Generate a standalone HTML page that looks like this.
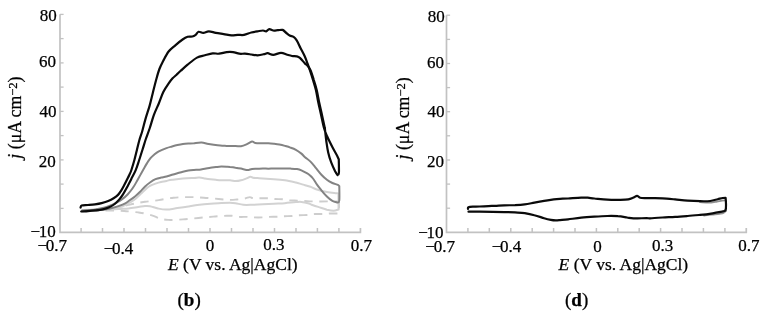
<!DOCTYPE html>
<html><head><meta charset="utf-8"><style>
html,body{margin:0;padding:0;background:#fff;}
svg{display:block;will-change:transform;}
text{stroke:#000;stroke-width:0.25px;}
.tl{font-family:"Liberation Serif",serif;font-size:17px;fill:#000;}
.at{font-family:"Liberation Serif",serif;font-size:17.5px;fill:#000;}
.pl{font-family:"Liberation Serif",serif;font-size:19px;fill:#000;}
</style></head><body>
<svg width="764" height="319" viewBox="0 0 764 319">
<rect width="764" height="319" fill="#fff"/>
<path d="M60.0,14.352000000000004 L60.0,232.3 L360.43,232.3 L360.43,228.0" fill="none" stroke="#c2c2c2" stroke-width="1.7"/>
<line x1="60.0" y1="14.4" x2="63.6" y2="14.4" stroke="#c2c2c2" stroke-width="1.3"/>
<line x1="60.0" y1="38.6" x2="63.6" y2="38.6" stroke="#c2c2c2" stroke-width="1.3"/>
<line x1="60.0" y1="62.9" x2="63.6" y2="62.9" stroke="#c2c2c2" stroke-width="1.3"/>
<line x1="60.0" y1="87.1" x2="63.6" y2="87.1" stroke="#c2c2c2" stroke-width="1.3"/>
<line x1="60.0" y1="111.4" x2="63.6" y2="111.4" stroke="#c2c2c2" stroke-width="1.3"/>
<line x1="60.0" y1="135.6" x2="63.6" y2="135.6" stroke="#c2c2c2" stroke-width="1.3"/>
<line x1="60.0" y1="159.9" x2="63.6" y2="159.9" stroke="#c2c2c2" stroke-width="1.3"/>
<line x1="60.0" y1="184.1" x2="63.6" y2="184.1" stroke="#c2c2c2" stroke-width="1.3"/>
<line x1="60.0" y1="208.4" x2="63.6" y2="208.4" stroke="#c2c2c2" stroke-width="1.3"/>
<line x1="81.1" y1="232.3" x2="81.1" y2="228.0" stroke="#c2c2c2" stroke-width="1.5"/>
<line x1="102.5" y1="232.3" x2="102.5" y2="228.0" stroke="#c2c2c2" stroke-width="1.5"/>
<line x1="124.0" y1="232.3" x2="124.0" y2="228.0" stroke="#c2c2c2" stroke-width="1.5"/>
<line x1="145.5" y1="232.3" x2="145.5" y2="228.0" stroke="#c2c2c2" stroke-width="1.5"/>
<line x1="167.0" y1="232.3" x2="167.0" y2="228.0" stroke="#c2c2c2" stroke-width="1.5"/>
<line x1="188.5" y1="232.3" x2="188.5" y2="228.0" stroke="#c2c2c2" stroke-width="1.5"/>
<line x1="210.0" y1="232.3" x2="210.0" y2="228.0" stroke="#c2c2c2" stroke-width="1.5"/>
<line x1="231.5" y1="232.3" x2="231.5" y2="228.0" stroke="#c2c2c2" stroke-width="1.5"/>
<line x1="253.0" y1="232.3" x2="253.0" y2="228.0" stroke="#c2c2c2" stroke-width="1.5"/>
<line x1="274.5" y1="232.3" x2="274.5" y2="228.0" stroke="#c2c2c2" stroke-width="1.5"/>
<line x1="296.0" y1="232.3" x2="296.0" y2="228.0" stroke="#c2c2c2" stroke-width="1.5"/>
<line x1="317.4" y1="232.3" x2="317.4" y2="228.0" stroke="#c2c2c2" stroke-width="1.5"/>
<line x1="338.9" y1="232.3" x2="338.9" y2="228.0" stroke="#c2c2c2" stroke-width="1.5"/>
<path d="M446.5,15.240000000000009 L446.5,232.3 L746.27,232.3 L746.27,228.0" fill="none" stroke="#c2c2c2" stroke-width="1.7"/>
<line x1="446.5" y1="15.2" x2="450.1" y2="15.2" stroke="#c2c2c2" stroke-width="1.3"/>
<line x1="446.5" y1="39.4" x2="450.1" y2="39.4" stroke="#c2c2c2" stroke-width="1.3"/>
<line x1="446.5" y1="63.5" x2="450.1" y2="63.5" stroke="#c2c2c2" stroke-width="1.3"/>
<line x1="446.5" y1="87.6" x2="450.1" y2="87.6" stroke="#c2c2c2" stroke-width="1.3"/>
<line x1="446.5" y1="111.7" x2="450.1" y2="111.7" stroke="#c2c2c2" stroke-width="1.3"/>
<line x1="446.5" y1="135.8" x2="450.1" y2="135.8" stroke="#c2c2c2" stroke-width="1.3"/>
<line x1="446.5" y1="160.0" x2="450.1" y2="160.0" stroke="#c2c2c2" stroke-width="1.3"/>
<line x1="446.5" y1="184.1" x2="450.1" y2="184.1" stroke="#c2c2c2" stroke-width="1.3"/>
<line x1="446.5" y1="208.2" x2="450.1" y2="208.2" stroke="#c2c2c2" stroke-width="1.3"/>
<line x1="467.9" y1="232.3" x2="467.9" y2="228.0" stroke="#c2c2c2" stroke-width="1.5"/>
<line x1="489.3" y1="232.3" x2="489.3" y2="228.0" stroke="#c2c2c2" stroke-width="1.5"/>
<line x1="510.8" y1="232.3" x2="510.8" y2="228.0" stroke="#c2c2c2" stroke-width="1.5"/>
<line x1="532.2" y1="232.3" x2="532.2" y2="228.0" stroke="#c2c2c2" stroke-width="1.5"/>
<line x1="553.6" y1="232.3" x2="553.6" y2="228.0" stroke="#c2c2c2" stroke-width="1.5"/>
<line x1="575.0" y1="232.3" x2="575.0" y2="228.0" stroke="#c2c2c2" stroke-width="1.5"/>
<line x1="596.4" y1="232.3" x2="596.4" y2="228.0" stroke="#c2c2c2" stroke-width="1.5"/>
<line x1="617.8" y1="232.3" x2="617.8" y2="228.0" stroke="#c2c2c2" stroke-width="1.5"/>
<line x1="639.2" y1="232.3" x2="639.2" y2="228.0" stroke="#c2c2c2" stroke-width="1.5"/>
<line x1="660.6" y1="232.3" x2="660.6" y2="228.0" stroke="#c2c2c2" stroke-width="1.5"/>
<line x1="682.0" y1="232.3" x2="682.0" y2="228.0" stroke="#c2c2c2" stroke-width="1.5"/>
<line x1="703.4" y1="232.3" x2="703.4" y2="228.0" stroke="#c2c2c2" stroke-width="1.5"/>
<line x1="724.9" y1="232.3" x2="724.9" y2="228.0" stroke="#c2c2c2" stroke-width="1.5"/>
<text x="39.70" y="20.85" class="tl">80</text>
<text x="39.00" y="67.25" class="tl">60</text>
<text x="39.60" y="116.90" class="tl">40</text>
<text x="38.70" y="166.70" class="tl">20</text>
<text x="30.40" y="237.00" class="tl">−<tspan dx="-1.3">10</tspan></text>
<text x="427.70" y="21.80" class="tl">80</text>
<text x="426.90" y="68.25" class="tl">60</text>
<text x="427.45" y="117.20" class="tl">40</text>
<text x="426.90" y="167.25" class="tl">20</text>
<text x="418.15" y="238.05" class="tl">−<tspan dx="-1.3">10</tspan></text>
<text x="37.55" y="250.95" class="tl">−<tspan dx="-1.3">0.7</tspan></text>
<text x="103.70" y="253.50" class="tl">−<tspan dx="-1.3">0.4</tspan></text>
<text x="205.75" y="250.80" class="tl">0</text>
<text x="263.25" y="250.35" class="tl">0.3</text>
<text x="350.65" y="250.80" class="tl">0.7</text>
<text x="425.35" y="252.00" class="tl">−<tspan dx="-1.3">0.7</tspan></text>
<text x="491.70" y="252.00" class="tl">−<tspan dx="-1.3">0.4</tspan></text>
<text x="593.35" y="251.85" class="tl">0</text>
<text x="651.95" y="251.15" class="tl">0.3</text>
<text x="738.30" y="251.15" class="tl">0.7</text>
<path d="M82.0,210.0 C85.0,209.8 94.5,209.4 100.0,209.0 C105.5,208.6 110.8,208.0 115.0,207.5 C119.2,207.0 121.7,206.5 125.0,205.8 C128.3,205.1 131.7,204.2 135.0,203.5 C138.3,202.8 141.0,202.4 145.0,201.8 C149.0,201.2 154.0,200.8 158.8,200.1 C163.6,199.4 168.6,198.2 173.6,197.7 C178.6,197.2 184.0,197.1 189.0,197.1 C194.0,197.1 198.9,197.4 203.8,197.7 C208.7,198.0 214.2,198.6 218.6,199.0 C223.0,199.4 226.9,199.8 230.0,199.9 C233.1,200.0 234.5,199.7 237.0,199.5 C239.5,199.3 242.7,198.9 244.8,198.5 C246.9,198.1 248.4,197.2 249.8,197.1 C251.2,197.0 251.4,198.0 253.0,198.2 C254.6,198.4 257.1,198.2 259.6,198.2 C262.1,198.2 265.4,198.2 267.9,198.3 C270.4,198.4 272.0,198.8 274.5,199.0 C277.0,199.2 280.1,199.1 282.7,199.3 C285.2,199.5 287.3,200.2 289.8,200.4 C292.3,200.6 295.0,200.5 297.5,200.6 C300.0,200.7 302.2,200.9 304.6,201.0 C307.0,201.1 308.1,201.3 312.0,201.4 C315.9,201.5 323.5,201.4 328.0,201.4 C332.5,201.4 337.2,201.4 339.0,201.4" fill="none" stroke="#cdcdcd" stroke-width="1.9" stroke-linejoin="round" stroke-linecap="butt" stroke-dasharray="8.4 6.6" stroke-dashoffset="1"/>
<path d="M339.0,201.4 L339.0,212.5 L339.0,212.5 C338.8,212.7 339.4,213.3 337.9,213.5 C336.4,213.7 332.8,213.4 330.2,213.5 C327.6,213.6 325.1,213.9 322.5,214.0 C319.9,214.1 317.3,213.8 314.9,214.0 C312.5,214.2 310.5,214.8 307.9,215.0 C305.3,215.2 301.8,215.1 299.2,215.3 C296.6,215.5 295.1,215.8 292.6,216.0 C290.1,216.2 286.8,216.1 284.3,216.2 C281.8,216.3 280.2,216.6 277.7,216.7 C275.1,216.8 271.6,216.8 269.0,216.9 C266.4,217.0 264.9,217.3 262.4,217.4 C259.9,217.5 256.6,217.5 254.1,217.4 C251.6,217.3 250.1,217.0 247.6,216.9 C245.1,216.8 241.4,217.1 238.8,216.9 C236.2,216.7 234.0,216.0 232.0,215.8 C230.0,215.6 230.0,215.7 226.8,215.8 C223.7,215.9 217.8,216.2 213.1,216.6 C208.3,217.0 203.3,217.5 198.3,218.0 C193.3,218.5 187.9,219.1 182.9,219.4 C177.9,219.7 171.9,220.1 168.1,219.9 C164.3,219.8 162.5,219.2 160.0,218.5 C157.5,217.8 155.8,216.6 153.3,215.8 C150.8,215.0 147.5,214.1 145.0,213.5 C142.5,212.9 140.7,212.7 138.2,212.4 C135.7,212.1 132.3,211.7 130.0,211.5 C127.7,211.3 127.4,211.2 124.1,211.0 C120.8,210.8 115.7,210.5 110.0,210.5 C104.3,210.5 93.3,210.9 90.0,211.0" fill="none" stroke="#cdcdcd" stroke-width="1.9" stroke-linejoin="round" stroke-linecap="butt" stroke-dasharray="8.4 6.6" stroke-dashoffset="1.6"/>
<path d="M100.0,210.0 C102.5,209.8 111.3,209.1 115.0,208.5 C118.7,207.9 119.8,207.3 122.0,206.5 C124.2,205.7 126.2,204.7 128.4,203.4 C130.6,202.2 133.3,200.6 135.4,199.0 C137.5,197.4 139.3,195.3 141.1,193.6 C142.9,191.9 144.5,190.3 146.0,189.0 C147.5,187.7 148.4,186.7 150.0,185.8 C151.6,184.9 153.7,184.2 155.5,183.6 C157.3,183.0 159.2,182.4 161.0,182.0 C162.8,181.6 164.7,181.3 166.5,180.9 C168.3,180.5 169.3,180.2 172.0,179.8 C174.7,179.4 179.2,178.7 182.9,178.4 C186.6,178.1 191.2,178.0 193.9,177.9 C196.7,177.8 197.6,177.5 199.4,177.6 C201.2,177.7 203.1,178.1 204.9,178.4 C206.7,178.7 208.6,179.0 210.4,179.2 C212.2,179.4 214.1,179.6 215.9,179.8 C217.7,180.0 219.1,180.2 221.4,180.3 C223.8,180.4 227.7,180.2 230.0,180.3 C232.3,180.4 233.7,181.1 235.5,181.1 C237.3,181.1 239.2,180.8 241.0,180.3 C242.8,179.9 244.9,179.0 246.5,178.4 C248.1,177.8 249.2,176.8 250.3,176.7 C251.4,176.6 251.8,177.6 253.0,177.8 C254.2,178.0 255.7,178.0 257.4,178.1 C259.0,178.2 260.1,178.2 262.9,178.4 C265.6,178.6 270.2,178.9 273.9,179.2 C277.6,179.5 281.2,179.8 284.9,180.3 C288.6,180.9 293.1,181.9 295.9,182.5 C298.6,183.1 299.9,183.7 301.4,184.1 C302.9,184.5 303.5,184.8 305.0,185.2 C306.5,185.6 308.7,186.1 310.5,186.8 C312.3,187.5 313.3,188.3 316.0,189.2 C318.7,190.1 323.6,191.4 326.9,192.1 C330.2,192.8 333.8,193.0 335.7,193.2 C337.6,193.4 337.9,193.4 338.4,193.5 L338.4,193.5 L338.6,209.5 L338.6,209.5 C337.8,209.7 335.4,210.8 333.5,210.8 C331.6,210.8 329.4,210.3 326.9,209.7 C324.3,209.0 320.8,207.7 318.2,206.9 C315.6,206.1 313.3,205.3 311.6,204.7 C309.9,204.1 309.7,203.7 308.0,203.2 C306.3,202.7 303.4,202.1 301.4,201.9 C299.4,201.7 298.6,201.9 295.9,202.1 C293.1,202.3 288.6,202.9 284.9,203.2 C281.2,203.5 277.6,203.5 273.9,203.7 C270.2,203.9 266.5,204.1 262.9,204.3 C259.2,204.5 255.3,204.7 252.0,204.8 C248.7,204.9 245.9,205.1 243.2,204.8 C240.4,204.5 237.7,203.5 235.5,203.2 C233.3,202.9 232.3,202.8 230.0,202.8 C227.7,202.8 224.7,202.8 221.4,203.0 C218.1,203.2 214.1,203.4 210.4,203.7 C206.7,204.0 203.1,204.3 199.4,204.8 C195.7,205.3 192.1,205.9 188.4,206.5 C184.7,207.1 181.1,207.6 177.4,208.1 C173.8,208.6 169.7,209.5 166.5,209.6 C163.3,209.7 160.8,209.1 158.0,208.5 C155.2,207.9 152.2,206.6 150.0,206.2 C147.8,205.8 147.0,205.9 145.0,206.0 C143.0,206.1 141.0,206.6 138.2,207.0 C135.4,207.4 131.7,208.1 128.4,208.4 C125.1,208.7 123.2,208.7 118.5,209.0 C113.8,209.3 103.1,209.8 100.0,210.0" fill="none" stroke="#d2d2d2" stroke-width="2.0" stroke-linejoin="round" stroke-linecap="round"/>
<path d="M82.0,210.5 C84.2,210.3 91.2,210.0 95.0,209.5 C98.8,209.0 102.2,208.3 105.0,207.5 C107.8,206.7 110.0,205.7 112.0,204.8 C114.0,203.9 115.2,203.3 117.0,202.3 C118.8,201.3 120.7,200.2 122.5,198.9 C124.3,197.6 125.9,196.3 127.6,194.5 C129.3,192.7 131.0,190.6 132.6,188.3 C134.2,186.1 135.6,183.5 137.0,181.0 C138.4,178.5 140.0,175.5 141.3,173.2 C142.6,170.8 143.7,168.8 144.8,166.9 C145.9,165.0 146.9,163.4 147.8,161.9 C148.8,160.4 149.6,159.3 150.5,158.2 C151.4,157.1 152.1,156.3 153.5,155.2 C154.9,154.1 156.6,152.6 158.8,151.4 C161.0,150.2 164.3,148.9 166.5,148.1 C168.7,147.3 170.2,147.0 172.0,146.5 C173.8,146.0 175.6,145.5 177.4,145.1 C179.2,144.7 181.1,144.3 182.9,144.0 C184.7,143.7 186.6,143.6 188.4,143.5 C190.2,143.4 191.7,143.3 193.9,143.2 C196.1,143.0 199.4,142.5 201.6,142.6 C203.8,142.7 205.1,143.3 207.1,143.7 C209.1,144.1 211.5,144.5 213.7,144.8 C215.9,145.1 218.1,145.4 220.3,145.6 C222.5,145.8 224.3,145.8 226.8,145.9 C229.3,146.0 233.1,146.1 235.5,146.1 C237.9,146.1 239.2,146.5 241.0,146.2 C242.8,145.9 244.7,145.1 246.5,144.3 C248.3,143.5 250.6,141.7 252.0,141.5 C253.4,141.3 253.4,142.7 255.2,143.0 C257.0,143.3 260.7,143.2 262.9,143.2 C265.1,143.2 266.6,143.1 268.4,143.2 C270.2,143.3 272.1,143.5 273.9,143.7 C275.7,143.9 277.6,144.1 279.4,144.5 C281.2,144.9 283.1,145.4 284.9,145.9 C286.7,146.4 288.6,146.9 290.4,147.6 C292.2,148.2 294.1,148.8 295.9,149.8 C297.7,150.8 299.9,152.4 301.4,153.6 C302.9,154.8 303.5,155.9 305.0,157.2 C306.5,158.5 308.7,159.8 310.5,161.6 C312.3,163.4 314.2,166.0 316.0,168.2 C317.8,170.4 319.6,172.8 321.4,174.7 C323.2,176.6 325.1,178.3 326.9,179.7 C328.7,181.1 330.6,182.1 332.4,183.0 C334.2,183.9 336.8,184.3 337.9,184.9 C339.0,185.5 339.1,186.1 339.3,186.3 L339.3,186.3 C339.3,188.7 339.6,197.8 339.3,200.5 C339.0,203.2 337.8,202.2 337.5,202.5 L337.5,202.5 C336.6,202.2 334.2,201.9 332.4,200.9 C330.6,199.9 328.7,198.3 326.9,196.5 C325.1,194.7 323.0,192.3 321.4,190.3 C319.8,188.3 318.4,186.6 317.0,184.6 C315.6,182.6 314.2,180.0 313.0,178.5 C311.8,177.0 311.0,176.3 310.0,175.4 C309.0,174.5 308.2,174.0 306.8,173.2 C305.4,172.4 303.0,171.1 301.4,170.4 C299.8,169.7 298.8,169.4 297.0,169.1 C295.2,168.8 292.4,168.7 290.4,168.6 C288.4,168.5 286.7,168.4 284.9,168.4 C283.1,168.4 281.2,168.5 279.4,168.5 C277.6,168.5 275.7,168.5 273.9,168.5 C272.1,168.5 270.2,168.7 268.4,168.7 C266.6,168.7 264.7,168.5 262.9,168.5 C261.1,168.5 259.2,168.7 257.4,168.8 C255.6,168.9 253.4,168.8 252.0,169.0 C250.6,169.2 249.6,169.8 248.7,169.9 C247.8,170.1 247.8,170.1 246.5,169.9 C245.2,169.7 242.8,169.0 241.0,168.6 C239.2,168.2 237.3,167.9 235.5,167.7 C233.7,167.4 231.4,167.2 230.0,167.1 C228.6,166.9 228.2,166.9 226.8,166.8 C225.4,166.7 223.2,166.6 221.4,166.6 C219.6,166.6 217.7,166.9 215.9,167.1 C214.1,167.3 212.2,167.4 210.4,167.7 C208.6,168.0 206.7,168.5 204.9,168.8 C203.1,169.1 201.2,169.5 199.4,169.7 C197.6,169.9 195.7,169.8 193.9,169.9 C192.1,170.1 190.2,170.3 188.4,170.6 C186.6,170.9 184.7,171.3 182.9,171.7 C181.1,172.1 179.2,172.7 177.4,173.2 C175.6,173.7 173.8,174.2 172.0,174.8 C170.2,175.4 168.3,176.0 166.5,176.5 C164.7,177.0 162.8,177.2 161.0,177.6 C159.2,178.0 157.3,178.4 155.5,179.2 C153.7,180.0 151.7,181.3 150.0,182.5 C148.3,183.7 146.8,184.9 145.1,186.5 C143.4,188.1 141.8,190.1 140.1,191.8 C138.4,193.5 136.7,195.1 135.0,196.5 C133.3,197.9 131.6,198.9 130.0,200.0 C128.4,201.1 127.2,202.3 125.3,203.3 C123.4,204.3 121.0,205.2 118.5,206.1 C116.0,207.0 113.1,207.8 110.0,208.5 C106.9,209.2 103.3,209.6 100.0,210.0 C96.7,210.4 93.0,210.6 90.0,210.8 C87.0,211.0 83.3,211.1 82.0,211.2" fill="none" stroke="#838383" stroke-width="2.0" stroke-linejoin="round" stroke-linecap="round"/>
<path d="M80.6,207.6 C80.8,207.2 80.4,205.9 81.6,205.5 C82.8,205.1 85.8,205.2 88.0,205.0 C90.2,204.8 92.7,204.6 95.0,204.3 C97.3,204.0 99.4,203.7 101.6,203.1 C103.8,202.5 106.2,201.8 108.2,201.0 C110.2,200.2 112.0,199.3 113.6,198.3 C115.2,197.3 116.7,196.2 118.0,194.9 C119.3,193.6 120.3,192.0 121.3,190.4 C122.3,188.8 123.1,187.2 124.0,185.5 C124.9,183.8 125.9,181.8 126.8,180.0 C127.7,178.2 128.5,176.7 129.3,175.0 C130.1,173.3 130.6,172.5 131.4,170.0 C132.2,167.5 133.5,163.3 134.4,160.0 C135.3,156.7 136.1,153.3 136.9,150.0 C137.7,146.7 138.5,143.2 139.4,140.0 C140.3,136.8 141.3,134.4 142.3,131.0 C143.3,127.6 144.1,123.8 145.3,119.6 C146.5,115.4 148.2,110.5 149.5,106.1 C150.8,101.6 151.7,97.2 152.8,92.9 C153.9,88.6 155.0,84.0 156.1,80.0 C157.2,76.0 158.2,72.2 159.4,69.0 C160.6,65.8 161.8,63.7 163.3,60.8 C164.8,57.9 166.6,54.1 168.6,51.5 C170.6,48.9 173.0,47.3 175.3,45.3 C177.6,43.3 180.6,40.9 182.6,39.5 C184.6,38.1 186.0,37.3 187.6,36.8 C189.2,36.3 191.0,36.8 192.3,36.5 C193.7,36.2 194.6,35.6 195.7,34.8 C196.8,34.0 197.3,32.1 198.6,31.8 C199.9,31.5 201.6,33.0 203.3,32.9 C205.0,32.8 206.7,31.3 208.8,31.3 C210.9,31.3 213.3,32.4 215.8,32.9 C218.3,33.4 221.1,33.7 223.7,34.1 C226.3,34.5 229.2,35.3 231.5,35.4 C233.8,35.5 235.7,35.0 237.8,34.9 C239.9,34.8 241.8,35.3 244.0,34.9 C246.2,34.5 249.1,33.1 251.3,32.5 C253.6,31.9 255.6,31.6 257.5,31.3 C259.4,31.0 261.6,30.5 263.0,30.5 C264.4,30.5 265.1,31.5 266.2,31.3 C267.2,31.1 268.1,29.2 269.3,29.1 C270.5,29.0 271.8,30.3 273.2,30.5 C274.6,30.7 276.3,30.3 277.9,30.2 C279.5,30.1 281.3,29.5 282.6,29.9 C283.9,30.3 284.6,31.6 285.8,32.5 C287.0,33.4 288.4,34.8 289.7,35.5 C291.0,36.2 292.4,36.1 293.6,36.9 C294.8,37.7 295.5,38.5 296.7,40.4 C297.9,42.3 299.3,45.6 300.6,48.2 C301.9,50.8 303.4,53.4 304.6,56.0 C305.8,58.6 306.8,61.6 307.7,63.9 C308.6,66.2 308.9,67.3 309.8,70.0 C310.7,72.7 312.0,76.7 313.0,80.0 C314.0,83.3 315.0,86.2 315.9,90.0 C316.8,93.8 317.4,98.3 318.3,102.6 C319.2,106.9 320.4,111.8 321.3,116.0 C322.2,120.2 323.1,124.7 324.0,128.0 C324.9,131.3 325.6,132.8 327.0,136.0 C328.4,139.2 330.9,144.2 332.6,147.5 C334.3,150.8 336.0,153.5 337.0,155.5 C338.0,157.5 338.5,158.8 338.8,159.5 L338.8,159.5 C338.8,161.8 339.1,170.4 338.9,173.0 C338.7,175.6 337.8,174.8 337.6,175.1 L337.6,175.1 C337.2,174.5 336.2,173.4 335.1,171.3 C334.1,169.2 332.5,165.7 331.3,162.6 C330.1,159.5 329.0,156.1 328.2,152.5 C327.4,148.9 326.9,145.1 326.3,141.0 C325.7,136.9 325.1,130.2 324.8,128.0" fill="none" stroke="#0a0a0a" stroke-width="2.2" stroke-linejoin="round" stroke-linecap="round"/>
<path d="M324.8,128.0 C324.4,126.0 323.1,120.2 322.2,116.0 C321.3,111.8 320.1,106.9 319.2,102.6 C318.3,98.3 317.6,93.8 316.7,90.0 C315.8,86.2 314.9,83.3 313.8,80.0 C312.8,76.7 311.5,72.4 310.4,70.0 C309.3,67.6 308.4,66.7 307.4,65.5 C306.4,64.3 305.9,64.4 304.6,63.1 C303.4,61.8 301.2,59.0 299.9,57.9 C298.6,56.8 298.0,56.7 296.7,56.4 C295.4,56.1 293.6,56.3 292.0,56.0 C290.4,55.7 289.1,55.3 287.3,54.8 C285.5,54.3 283.4,52.9 281.0,52.9 C278.6,52.9 275.4,54.8 273.2,54.8 C271.0,54.8 269.3,53.3 267.7,53.2 C266.1,53.1 265.5,53.9 263.8,54.2 C262.1,54.6 259.6,55.2 257.5,55.3 C255.4,55.3 253.4,54.8 251.3,54.5 C249.2,54.2 247.0,53.8 245.0,53.7 C243.0,53.6 241.3,54.0 239.3,53.7 C237.3,53.4 235.1,52.4 233.0,52.1 C230.9,51.8 229.1,51.8 226.8,52.1 C224.5,52.4 221.3,53.5 219.0,53.7 C216.7,53.9 215.0,53.1 212.7,53.4 C210.3,53.7 207.5,54.6 204.9,55.3 C202.3,56.0 199.9,56.0 197.0,57.6 C194.1,59.2 190.3,62.5 187.6,64.7 C184.9,66.9 182.6,69.1 180.7,70.8 C178.8,72.5 177.7,73.8 176.3,75.0 C175.0,76.2 173.9,76.9 172.6,78.3 C171.3,79.7 170.1,81.3 168.5,83.6 C166.9,85.9 164.9,88.7 163.3,92.0 C161.7,95.3 160.4,99.7 158.8,103.5 C157.2,107.3 155.4,110.8 153.9,114.9 C152.4,119.0 151.2,123.8 149.8,128.0 C148.4,132.2 146.7,136.3 145.5,140.0 C144.3,143.7 143.5,146.7 142.4,150.0 C141.3,153.3 140.3,156.7 139.2,160.0 C138.1,163.3 137.0,166.9 135.7,170.1 C134.4,173.2 132.9,175.8 131.3,178.9 C129.7,182.0 127.6,186.2 126.2,188.8 C124.8,191.4 124.2,192.5 123.0,194.3 C121.8,196.1 120.5,198.0 119.1,199.6 C117.7,201.2 116.3,202.7 114.7,204.0 C113.1,205.3 111.2,206.4 109.2,207.3 C107.2,208.2 105.1,208.8 102.7,209.3 C100.3,209.8 97.5,210.1 95.0,210.4 C92.5,210.7 90.3,210.9 88.0,211.1 C85.7,211.3 82.3,211.4 81.2,211.5" fill="none" stroke="#0a0a0a" stroke-width="2.2" stroke-linejoin="round" stroke-linecap="round"/>
<path d="M700.0,202.2 C701.0,202.3 704.2,202.5 706.0,202.6 C707.8,202.7 709.2,202.8 711.0,202.6 C712.8,202.4 715.2,201.9 717.0,201.6 C718.8,201.3 720.5,200.8 722.0,200.6 C723.5,200.4 725.2,200.4 725.8,200.4" fill="none" stroke="#8f8f8f" stroke-width="1.8" stroke-linejoin="round" stroke-linecap="round"/>
<path d="M704.0,215.6 C705.3,215.4 709.4,214.9 712.0,214.6 C714.6,214.3 717.5,214.1 719.4,213.8 C721.3,213.5 722.4,213.5 723.5,213.0 C724.6,212.5 725.6,211.3 726.0,211.0" fill="none" stroke="#8f8f8f" stroke-width="1.8" stroke-linejoin="round" stroke-linecap="round"/>
<path d="M468.0,208.9 C468.1,208.6 467.6,207.7 468.4,207.3 C469.2,206.9 470.9,206.7 472.8,206.6 C474.7,206.5 477.0,206.6 479.6,206.5 C482.2,206.4 485.9,206.2 488.5,206.1 C491.1,206.0 492.4,205.9 495.0,205.8 C497.6,205.7 500.9,205.4 504.2,205.3 C507.5,205.2 511.6,205.3 515.0,205.2 C518.4,205.0 521.5,204.8 524.7,204.4 C527.9,204.0 531.2,203.2 534.4,202.6 C537.6,202.0 540.9,201.4 544.1,200.9 C547.3,200.4 551.1,199.8 553.8,199.4 C556.4,199.1 557.6,199.0 560.0,198.8 C562.4,198.7 564.6,198.7 568.1,198.5 C571.6,198.3 577.9,197.8 581.2,197.7 C584.5,197.6 585.5,197.6 587.7,197.7 C589.9,197.8 591.0,198.2 594.3,198.5 C597.6,198.8 603.0,199.5 607.4,199.7 C611.8,199.9 616.9,199.9 620.4,199.8 C623.9,199.8 626.1,199.8 628.3,199.4 C630.5,199.0 632.0,198.2 633.5,197.6 C635.0,197.0 635.9,195.8 637.0,195.8 C638.1,195.8 638.5,197.3 640.1,197.7 C641.7,198.1 644.1,198.0 646.6,198.1 C649.1,198.2 652.4,198.1 655.0,198.1 C657.6,198.1 659.1,198.1 662.5,198.3 C665.9,198.5 670.9,199.0 675.1,199.4 C679.3,199.8 683.4,200.3 687.6,200.6 C691.8,200.9 696.3,201.1 700.1,201.2 C703.9,201.3 707.3,201.3 710.2,201.0 C713.1,200.7 715.6,199.7 717.7,199.2 C719.8,198.7 721.4,198.2 722.7,198.0 C724.0,197.8 725.1,197.8 725.6,197.8 L725.6,197.8 C725.7,198.8 726.0,202.0 726.0,204.0 C726.0,206.0 726.1,208.8 725.6,210.0 C725.1,211.2 723.4,211.2 723.0,211.4 L723.0,211.4 C721.3,211.7 716.5,212.7 712.7,213.3 C708.9,213.9 704.3,214.5 700.1,214.9 C695.9,215.3 691.8,215.7 687.6,216.0 C683.4,216.3 679.3,216.6 675.1,216.8 C670.9,217.1 666.7,217.2 662.5,217.5 C658.3,217.8 652.6,218.2 650.0,218.3 C647.4,218.4 649.4,218.1 646.6,218.1 C643.9,218.1 636.8,218.5 633.5,218.4 C630.2,218.3 629.6,217.9 627.0,217.5 C624.4,217.1 621.1,216.4 617.8,216.2 C614.5,215.9 611.3,215.9 607.4,216.0 C603.5,216.1 598.7,216.4 594.3,216.7 C589.9,217.0 585.6,217.3 581.2,217.7 C576.8,218.1 571.6,218.9 568.1,219.3 C564.6,219.7 562.0,219.9 560.0,220.1 C558.0,220.3 557.3,220.4 555.8,220.4 C554.3,220.4 552.8,220.3 550.9,219.9 C549.0,219.5 546.9,219.0 544.1,218.2 C541.4,217.4 537.6,216.0 534.4,215.2 C531.2,214.3 527.9,213.6 524.7,213.1 C521.5,212.6 518.4,212.6 515.0,212.4 C511.6,212.2 507.9,212.2 504.2,212.1 C500.5,212.0 496.8,211.9 492.7,211.8 C488.6,211.7 483.6,211.7 479.6,211.7 C475.6,211.7 470.4,211.7 468.5,211.7" fill="none" stroke="#0a0a0a" stroke-width="2.2" stroke-linejoin="round" stroke-linecap="round"/>
<text transform="translate(21.00,117.60) rotate(-90)" class="at" text-anchor="middle" style="font-size:17.8px"><tspan font-style="italic">j</tspan> (μA cm<tspan dy="-4.5" font-size="12.5">−2</tspan><tspan dy="4.5">)</tspan></text>
<text transform="translate(409.00,118.40) rotate(-90)" class="at" text-anchor="middle" style="font-size:17.8px"><tspan font-style="italic">j</tspan> (μA cm<tspan dy="-4.5" font-size="12.5">−2</tspan><tspan dy="4.5">)</tspan></text>
<text x="168.00" y="269.80" class="at"><tspan font-style="italic">E</tspan> (V vs. Ag|AgCl)</text>
<text x="558.60" y="270.00" class="at"><tspan font-style="italic">E</tspan> (V vs. Ag|AgCl)</text>
<text x="177.50" y="306.00" class="pl">(<tspan font-weight="bold">b</tspan>)</text>
<text x="565.00" y="306.00" class="pl">(<tspan font-weight="bold">d</tspan>)</text>
</svg>
</body></html>
